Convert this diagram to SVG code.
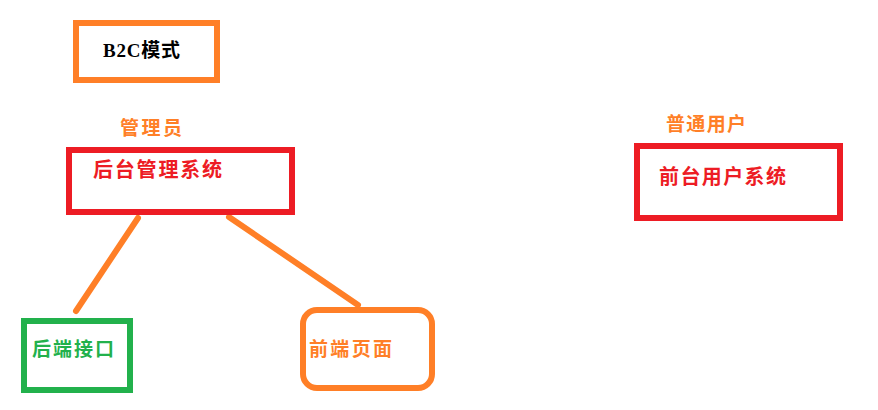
<svg xmlns="http://www.w3.org/2000/svg" width="878" height="410" viewBox="0 0 878 410">
<style>
text{font-family:"Noto Sans CJK SC","Liberation Sans",sans-serif;font-weight:bold;}
text.serif{font-family:"Liberation Serif","Noto Sans CJK SC",serif;}
.box{fill:#ffffff;stroke-width:6;}
.red{stroke:#ed1c24;}
.org{stroke:#ff7f27;}
.grn{stroke:#22b14c;}
.tred{fill:#ed1c24;font-size:20px;}
.torg{fill:#ff7f27;font-size:19px;}
.tgrn{fill:#22b14c;font-size:19px;}
.conn{stroke:#ff7f27;stroke-width:6;stroke-linecap:round;fill:none;}
</style>
<rect width="878" height="410" fill="#ffffff"/>
<g id="connectors">
<line class="conn" x1="138" y1="218" x2="76" y2="311"/>
<line class="conn" x1="229" y1="217" x2="358" y2="305"/>
</g>
<g id="b2c">
<rect class="box org" x="76" y="23" width="141" height="57"/>
<text class="serif" x="103" y="57" font-size="19" fill="#000000" textLength="77">B2C模式</text>
</g>
<g id="admin-label">
<text class="torg" x="120" y="135" textLength="62">管理员</text>
</g>
<g id="backend-system">
<rect class="box red" x="69" y="150" width="223" height="62"/>
<text class="tred" x="93" y="177" textLength="129">后台管理系统</text>
</g>
<g id="user-label">
<text class="torg" x="666" y="131" textLength="80">普通用户</text>
</g>
<g id="frontend-system">
<rect class="box red" x="637" y="146" width="203" height="72"/>
<text class="tred" x="659" y="184" textLength="127">前台用户系统</text>
</g>
<g id="backend-api">
<rect class="box grn" x="24" y="321" width="106" height="69"/>
<text class="tgrn" x="32" y="356" textLength="82">后端接口</text>
</g>
<g id="frontend-page">
<rect class="box org" x="303" y="310" width="129" height="78" rx="14"/>
<text class="torg" x="309" y="356" textLength="83">前端页面</text>
</g>
</svg>
